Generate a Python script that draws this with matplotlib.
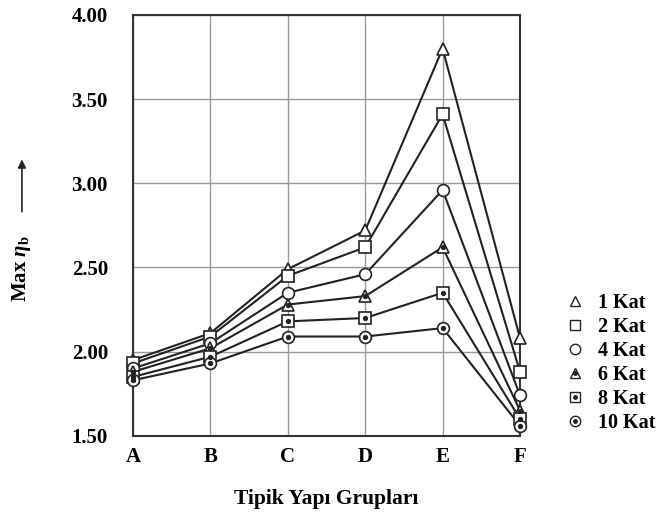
import matplotlib
matplotlib.use("Agg")
import matplotlib.pyplot as plt
from matplotlib.lines import Line2D
from matplotlib.patches import FancyArrowPatch

plt.rcParams['font.family'] = ['Liberation Serif', 'DejaVu Serif']
plt.rcParams['font.weight'] = 'bold'
plt.rcParams['mathtext.fontset'] = 'custom'
plt.rcParams['mathtext.rm'] = 'Liberation Serif:bold'
plt.rcParams['mathtext.it'] = 'Liberation Serif:italic:bold'
plt.rcParams['mathtext.bf'] = 'Liberation Serif:bold'

categories = ['A', 'B', 'C', 'D', 'E', 'F']
series_names = ['1 Kat', '2 Kat', '4 Kat', '6 Kat', '8 Kat', '10 Kat']
kat1 = [1.95, 2.11, 2.49, 2.72, 3.80, 2.08]
kat2 = [1.93, 2.09, 2.45, 2.62, 3.41, 1.88]
kat4 = [1.90, 2.05, 2.35, 2.46, 2.96, 1.74]
kat6 = [1.88, 2.02, 2.28, 2.33, 2.62, 1.65]
kat8 = [1.85, 1.97, 2.18, 2.20, 2.35, 1.60]
kat10 = [1.83, 1.93, 2.09, 2.09, 2.14, 1.56]
yticks = [1.50, 2.00, 2.50, 3.00, 3.50, 4.00]

series = [kat1, kat2, kat4, kat6, kat8, kat10]
markers = ['^', 's', 'o', '^', 's', 'o']
dotted = [False, False, False, True, True, True]

fig = plt.figure(figsize=(6.65, 5.17), dpi=100)
ax = fig.add_axes([0.2, 0.157, 0.582, 0.814])
x = list(range(len(categories)))

handles = []
for vals, m, d, name in zip(series, markers, dotted, series_names):
    ax.plot(x, vals, color='#222222', lw=1.5, zorder=3, clip_on=False)
    ax.plot(x, vals, ls='none', marker=m, ms=8.5, mfc='white', mec='#222222', mew=1.2,
            zorder=4, clip_on=False)
    h1 = Line2D([], [], ls='none', marker=m, ms=7.5, mfc='white', mec='#222222', mew=1.0)
    if d:
        ax.plot(x, vals, ls='none', marker='o', ms=2.8, color='#222222', zorder=5, clip_on=False)
        h2 = Line2D([], [], ls='none', marker='o', ms=2.5, color='#222222')
        handles.append((h1, h2))
    else:
        handles.append(h1)

ax.set_xlim(0, 5)
ax.set_ylim(1.5, 4.0)
ax.set_xticks(x)
ax.set_xticklabels(categories)
ax.set_yticks(yticks)
ax.set_yticklabels([f'{v:.2f}' for v in yticks])
ax.grid(True, color='#999999', lw=1.0, zorder=0)
ax.set_axisbelow(True)
for s in ax.spines.values():
    s.set_linewidth(1.5)
    s.set_color('#333333')
ax.tick_params(axis='y', length=0, pad=18, labelsize=15)
ax.tick_params(axis='x', length=0, pad=8, labelsize=15)
for lab in ax.get_xticklabels() + ax.get_yticklabels():
    lab.set_fontweight('bold')

ax.set_xlabel('Tipik Yapı Grupları', fontsize=15.5, fontweight='bold', labelpad=16)

fig.text(0.033, 0.48, r'Max $\eta_{\mathbf{b}}$', rotation=90, fontsize=15,
         fontweight='bold', ha='center', va='center')
fig.add_artist(FancyArrowPatch((0.033, 0.585), (0.033, 0.697),
               transform=fig.transFigure, arrowstyle='-|>', mutation_scale=12,
               color='#222222', lw=1.2))

leg = fig.legend(handles, series_names, loc='center left', bbox_to_anchor=(0.835, 0.298),
                 frameon=False, handlelength=1.0, handletextpad=0.6,
                 labelspacing=0.2, borderpad=0, borderaxespad=0.5,
                 prop={'weight': 'bold', 'size': 14.5})

fig.savefig('out.png', dpi=100)
